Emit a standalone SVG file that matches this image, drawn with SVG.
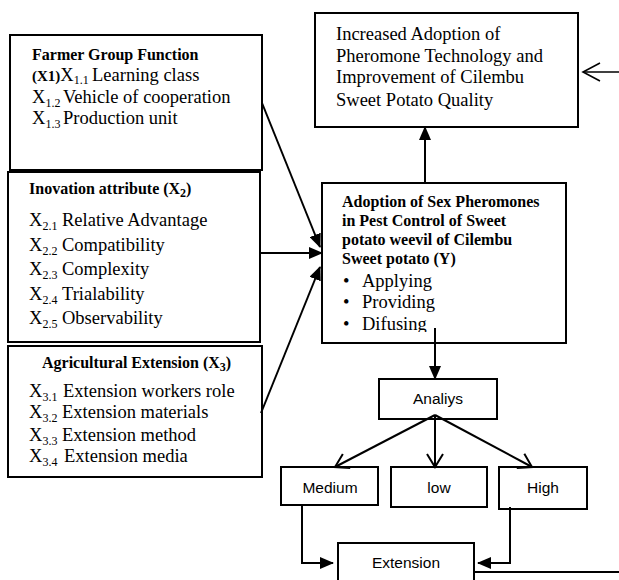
<svg xmlns="http://www.w3.org/2000/svg" width="619" height="580" viewBox="0 0 619 580">
<defs>
<marker id="fill" markerUnits="userSpaceOnUse" markerWidth="14" markerHeight="12" refX="13" refY="6" orient="auto"><path d="M0,0 L14,6 L0,12 z" fill="#000"/></marker>
<marker id="open" markerUnits="userSpaceOnUse" markerWidth="16" markerHeight="18" refX="14" refY="9" orient="auto"><path d="M1,1 L14,9 L1,17" fill="none" stroke="#000" stroke-width="2"/></marker>
<marker id="open2" markerUnits="userSpaceOnUse" markerWidth="20" markerHeight="22" refX="18" refY="10" orient="auto"><path d="M1,1 L18,10 L1,19" fill="none" stroke="#000" stroke-width="1.6"/></marker>
<clipPath id="yclip"><rect x="322" y="183" width="244" height="149"/></clipPath>
</defs>
<style>
.box{fill:#fff;stroke:#000;stroke-width:2}
.s{font-family:"Liberation Serif","Times New Roman",serif;font-size:18.5px;fill:#000}
.b{font-family:"Liberation Serif","Times New Roman",serif;font-size:16px;font-weight:bold;fill:#000}
.sub{font-size:12px}
.a{font-family:"Liberation Sans",Arial,sans-serif;font-size:15.5px;fill:#000;text-anchor:middle}
.c{fill:none;stroke:#000;stroke-width:2}
</style>

<g id="farmer">
<rect class="box" x="10" y="35" width="252" height="135"/>
<text class="b" x="32" y="60">Farmer Group Function</text>
<text class="s" x="32" y="81"><tspan font-weight="bold" font-size="15px">(X1)</tspan>X<tspan class="sub" font-size="11px" dy="3">1.1</tspan><tspan x="92" dy="-3">Learning class</tspan></text>
<text class="s" x="32" y="103">X<tspan class="sub" dy="4">1.2</tspan><tspan x="63" dy="-4">Vehicle of cooperation</tspan></text>
<text class="s" x="32" y="124">X<tspan class="sub" dy="4">1.3</tspan><tspan x="63" dy="-4">Production unit</tspan></text>
</g>

<g id="inovation">
<rect class="box" x="8" y="172" width="252" height="170"/>
<text class="b" x="29" y="194">Inovation attribute (X<tspan class="sub" dy="3">2</tspan><tspan dy="-3">)</tspan></text>
<text class="s" x="29" y="226">X<tspan class="sub" dy="4">2.1</tspan><tspan x="62" dy="-4">Relative Advantage</tspan></text>
<text class="s" x="29" y="251">X<tspan class="sub" dy="4">2.2</tspan><tspan x="62" dy="-4">Compatibility</tspan></text>
<text class="s" x="29" y="275">X<tspan class="sub" dy="4">2.3</tspan><tspan x="62" dy="-4">Complexity</tspan></text>
<text class="s" x="29" y="300">X<tspan class="sub" dy="4">2.4</tspan><tspan x="62" dy="-4">Trialability</tspan></text>
<text class="s" x="29" y="324">X<tspan class="sub" dy="4">2.5</tspan><tspan x="62" dy="-4">Observability</tspan></text>
</g>

<g id="extension-x3">
<rect class="box" x="8" y="346" width="254" height="131"/>
<text class="b" x="42" y="368">Agricultural Extension (X<tspan class="sub" dy="3">3</tspan><tspan dy="-3">)</tspan></text>
<text class="s" x="29" y="397">X<tspan class="sub" dy="4">3.1</tspan><tspan x="63" dy="-4">Extension workers role</tspan></text>
<text class="s" x="29" y="418">X<tspan class="sub" dy="4">3.2</tspan><tspan x="62" dy="-4">Extension materials</tspan></text>
<text class="s" x="29" y="441">X<tspan class="sub" dy="4">3.3</tspan><tspan x="62" dy="-4">Extension method</tspan></text>
<text class="s" x="29" y="462">X<tspan class="sub" dy="4">3.4</tspan><tspan x="64" dy="-4">Extension media</tspan></text>
</g>

<g id="result">
<rect class="box" x="315" y="13" width="263" height="114"/>
<text class="s" x="336" y="40">Increased Adoption of</text>
<text class="s" x="336" y="62">Pheromone Technology and</text>
<text class="s" x="336" y="83">Improvement of Cilembu</text>
<text class="s" x="336" y="106">Sweet Potato Quality</text>
</g>

<g id="adoption">
<rect class="box" x="322" y="183" width="244" height="160"/>
<g clip-path="url(#yclip)">
<text class="b" x="342" y="207" font-size="15.7">Adoption of Sex Pheromones</text>
<text class="b" x="342" y="226" font-size="15.7">in Pest Control of Sweet</text>
<text class="b" x="342" y="245" font-size="15.7">potato weevil of Cilembu</text>
<text class="b" x="342" y="264" font-size="15.7">Sweet potato (Y)</text>
<text class="s" x="343" y="287">•<tspan x="362">Applying</tspan></text>
<text class="s" x="343" y="308">•<tspan x="362">Providing</tspan></text>
<text class="s" x="343" y="330">•<tspan x="362">Difusing</tspan></text>
</g>
</g>

<g id="analiys">
<rect class="box" x="379" y="379" width="118" height="40"/>
<text class="a" x="438" y="404">Analiys</text>
</g>
<g id="medium">
<rect class="box" x="281" y="467" width="97" height="38"/>
<text class="a" x="330" y="493">Medium</text>
</g>
<g id="low">
<rect class="box" x="391" y="467" width="96" height="40"/>
<text class="a" x="439" y="493">low</text>
</g>
<g id="high">
<rect class="box" x="499" y="467" width="88" height="42"/>
<text class="a" x="543" y="493">High</text>
</g>
<g id="extension">
<rect class="box" x="338" y="543" width="136" height="45"/>
<text class="a" x="406" y="568">Extension</text>
</g>

<g id="connectors">
<line class="c" x1="262" y1="103" x2="320" y2="247" marker-end="url(#fill)"/>
<line class="c" x1="259" y1="253" x2="322" y2="253" marker-end="url(#fill)"/>
<line class="c" x1="261" y1="413" x2="320" y2="267" marker-end="url(#fill)"/>
<line class="c" x1="425" y1="183" x2="425" y2="127" marker-end="url(#fill)"/>
<line x1="619" y1="72" x2="583" y2="72" stroke="#000" stroke-width="1.6" marker-end="url(#open2)"/>
<line class="c" x1="435" y1="328" x2="435" y2="379" marker-end="url(#fill)"/>
<line class="c" x1="435" y1="415" x2="335" y2="467" marker-end="url(#open)"/>
<line class="c" x1="435" y1="415" x2="435" y2="467" marker-end="url(#open)"/>
<line class="c" x1="435" y1="415" x2="532" y2="467" marker-end="url(#open)"/>
<polyline class="c" points="302,505 302,563 333,563" marker-end="url(#fill)"/>
<polyline class="c" points="510,507 510,563 478,563" marker-end="url(#fill)"/>
<line class="c" x1="474" y1="572" x2="619" y2="572"/>
</g>
</svg>
